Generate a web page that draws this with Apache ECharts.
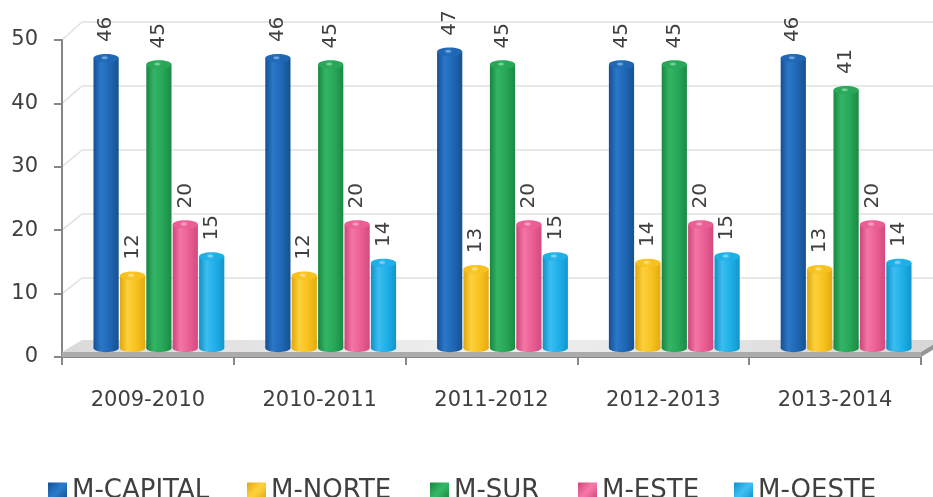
<!DOCTYPE html>
<html>
<head>
<meta charset="utf-8">
<script src="https://cdn.jsdelivr.net/npm/echarts@6/dist/echarts.min.js"></script>
<style>
  html, body { margin: 0; padding: 0; background: #ffffff; }
  #chart { width: 933px; height: 497px; }
</style>
</head>
<body>
<div id="chart"></div>
<script>
// School years on the category axis
const seasons = ['2009-2010', '2010-2011', '2011-2012', '2012-2013', '2013-2014'];

// One array per municipality
const seriesNames = ['M-CAPITAL', 'M-NORTE', 'M-SUR', 'M-ESTE', 'M-OESTE'];
const capital = [46, 46, 47, 45, 46];
const norte   = [12, 12, 13, 14, 13];
const sur     = [45, 45, 45, 45, 41];
const este    = [20, 20, 20, 20, 20];
const oeste   = [15, 14, 15, 15, 14];
const seriesValues = [capital, norte, sur, este, oeste];

// Value axis range and step
const yMin = 0, yMax = 50, yStep = 10;

// Cylinder shading: [dark edge, highlight, body, dark edge]
const palette = [
  ['#154f92', '#2a78c8', '#1f67b5', '#17518f'],
  ['#e0a60e', '#fcd03c', '#f7c21f', '#e3aa10'],
  ['#198441', '#34b566', '#27a757', '#1a8a45'],
  ['#cd4479', '#f276a6', '#ea5e93', '#d24a80'],
  ['#118fc6', '#3cbdf0', '#1eafe7', '#1296cc']
];

const FONT = '"DejaVu Sans", "Liberation Sans", sans-serif';
const TEXT = '#404040';
const BAR_FRAC = 0.1537;   // one cylinder's share of a category slot

function bodyGradient(c) {
  return new echarts.graphic.LinearGradient(0, 0, 1, 0, [
    { offset: 0, color: c[0] },
    { offset: 0.3, color: c[1] },
    { offset: 0.65, color: c[2] },
    { offset: 1, color: c[3] }
  ]);
}
function capGradient(c) {
  return new echarts.graphic.RadialGradient(0.45, 0.45, 0.6, [
    { offset: 0, color: c[1] },
    { offset: 1, color: c[2] }
  ]);
}

function cylinderRenderer(idx) {
  const c = palette[idx];
  return function (params, api) {
    const cat = api.value(0);
    const v = api.value(1);
    const top = api.coord([cat, v]);
    const base = api.coord([cat, 0]);
    const bw = api.size([1, 0])[0] * BAR_FRAC;
    const cx = top[0] + (idx - 2) * bw;
    const w = bw - 1.2;
    const x0 = cx - w / 2;
    const ry = 4.2;
    const yTop = top[1];
    const yBot = base[1] - 4.5;
    const body = bodyGradient(c);
    return {
      type: 'group',
      children: [
        { type: 'rect', shape: { x: x0, y: yTop, width: w, height: yBot - yTop }, style: { fill: body } },
        { type: 'ellipse', shape: { cx: cx, cy: yBot, rx: w / 2, ry: ry }, style: { fill: body } },
        { type: 'ellipse', shape: { cx: cx, cy: yTop, rx: w / 2, ry: ry }, style: { fill: capGradient(c) } },
        { type: 'ellipse', shape: { cx: cx - w * 0.06, cy: yTop - 0.4, rx: w * 0.12, ry: 1.3 }, style: { fill: 'rgba(255,255,255,0.35)' } },
        {
          type: 'text', x: cx, y: yTop - 16, rotation: Math.PI / 2,
          style: { text: String(v), fill: TEXT, fontSize: 20, fontFamily: FONT, align: 'left', verticalAlign: 'middle' }
        }
      ]
    };
  };
}

const chart = echarts.init(document.getElementById('chart'), null, { renderer: 'canvas' });

const legendLefts = [48, 247, 430, 578, 734];

const option = {
  backgroundColor: '#ffffff',
  animation: false,
  grid: [
    // back wall
    { left: 82, right: 0, top: 22, bottom: 155 },
    // front axes
    { left: 62, right: 12, top: 40, bottom: 140 },
    // cylinders
    { left: 73, right: 1, top: 32.5, bottom: 144.5 }
  ],
  xAxis: [
    { gridIndex: 0, type: 'category', data: seasons, show: false },
    {
      gridIndex: 1, type: 'category', data: seasons,
      axisLine: { lineStyle: { color: '#868686', width: 2 } },
      axisTick: { show: true, length: 8, lineStyle: { color: '#868686', width: 2 } },
      axisLabel: { color: TEXT, fontSize: 21, fontFamily: FONT, margin: 33 }
    },
    { gridIndex: 2, type: 'category', data: seasons, show: false }
  ],
  yAxis: [
    {
      gridIndex: 0, type: 'value', min: yMin, max: yMax, interval: yStep,
      axisLine: { show: false }, axisTick: { show: false }, axisLabel: { show: false },
      splitLine: { lineStyle: { color: '#e0e0e0', width: 1.5 } }
    },
    {
      gridIndex: 1, type: 'value', min: yMin, max: yMax, interval: yStep,
      axisLine: { show: true, lineStyle: { color: '#868686', width: 2 } },
      axisTick: { show: true, length: 8, lineStyle: { color: '#868686', width: 2 } },
      axisLabel: { color: TEXT, fontSize: 21, fontFamily: FONT, margin: 24 },
      splitLine: { show: false }
    },
    { gridIndex: 2, type: 'value', min: yMin, max: yMax, interval: yStep, show: false, splitLine: { show: false } }
  ],
  legend: seriesNames.map((name, i) => ({
    data: [name],
    left: legendLefts[i],
    top: 478,
    padding: 0,
    icon: 'rect',
    itemWidth: 19,
    itemHeight: 17,
    itemGap: 0,
    textStyle: { color: TEXT, fontSize: 26, fontFamily: FONT, lineHeight: 17 }
  })),
  series: seriesNames.map((name, i) => ({
    name: name,
    type: 'custom',
    xAxisIndex: 2,
    yAxisIndex: 2,
    z: 5,
    itemStyle: {
      color: new echarts.graphic.LinearGradient(0, 0, 1, 1, [
        { offset: 0, color: palette[i][0] },
        { offset: 0.45, color: palette[i][1] },
        { offset: 0.55, color: palette[i][1] },
        { offset: 1, color: palette[i][0] }
      ])
    },
    renderItem: cylinderRenderer(i),
    encode: { x: 0, y: 1 },
    data: seriesValues[i].map((v, k) => [k, v])
  }))
};

chart.setOption(option);

// Side wall and floor slab, placed from the axes' own pixel positions
function drawRoom() {
  const ticks = [];
  for (let v = yMin; v <= yMax; v += yStep) ticks.push(v);
  const frontBand = chart.getModel().getComponent('xAxis', 1).axis.getBandWidth();
  const backBand = chart.getModel().getComponent('xAxis', 0).axis.getBandWidth();
  const frontX = chart.convertToPixel({ xAxisIndex: 1 }, 0) - frontBand / 2;
  const frontRight = chart.convertToPixel({ xAxisIndex: 1 }, seasons.length - 1) + frontBand / 2;
  const backX = chart.convertToPixel({ xAxisIndex: 0 }, 0) - backBand / 2;
  const depthX = backX - frontX;
  const elements = [];
  ticks.forEach(v => {
    if (v === yMin) return;
    const yf = chart.convertToPixel({ yAxisIndex: 1 }, v);
    const yb = chart.convertToPixel({ yAxisIndex: 0 }, v);
    elements.push({
      type: 'line', silent: true, z: 0,
      shape: { x1: frontX, y1: yf, x2: backX, y2: yb },
      style: { stroke: '#e0e0e0', lineWidth: 1.5 }
    });
  });
  const yFront = chart.convertToPixel({ yAxisIndex: 1 }, yMin);
  const yBack = chart.convertToPixel({ yAxisIndex: 0 }, yMin);
  const slabTop = yFront - 5;
  const backY = yBack - 2;
  elements.push({
    type: 'polygon', silent: true, z: 1,
    shape: { points: [[frontX, slabTop], [frontRight, slabTop], [frontRight + depthX, backY], [frontX + depthX, backY]] },
    style: {
      fill: new echarts.graphic.LinearGradient(0, 0, 1, 0, [
        { offset: 0, color: '#dadada' },
        { offset: 0.5, color: '#f0f0f0' },
        { offset: 1, color: '#d6d6d6' }
      ])
    }
  });
  elements.push({
    type: 'rect', silent: true, z: 1,
    shape: { x: frontX, y: slabTop, width: frontRight - frontX, height: yFront - slabTop },
    style: { fill: '#ababab' }
  });
  elements.push({
    type: 'polygon', silent: true, z: 1,
    shape: { points: [[frontRight, slabTop], [frontRight + depthX, backY], [frontRight + depthX, backY + 5], [frontRight, yFront]] },
    style: { fill: '#969696' }
  });
  chart.setOption({ graphic: { elements: elements } });
}
drawRoom();
</script>
</body>
</html>
